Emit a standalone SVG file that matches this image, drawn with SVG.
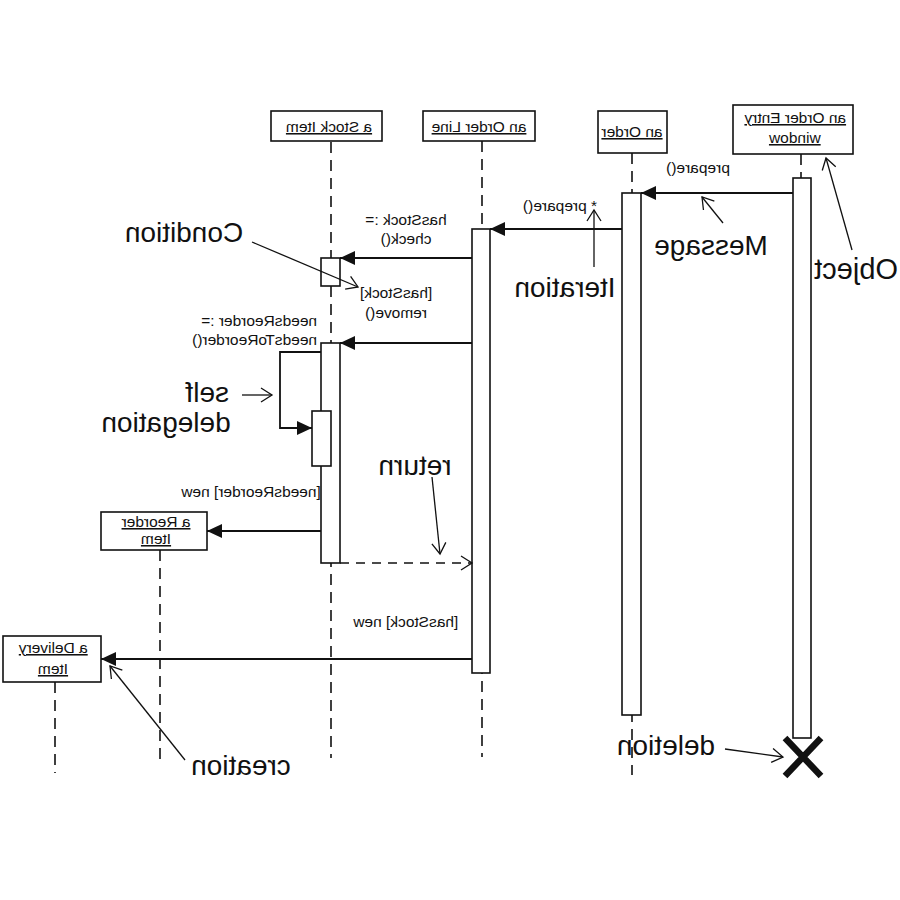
<svg xmlns="http://www.w3.org/2000/svg" width="900" height="900" viewBox="0 0 900 900">
<style>
text { font-family: "Liberation Sans", Arial, sans-serif; fill: #111; }
.m { transform-box: fill-box; transform-origin: center; transform: scaleX(-1); }
.s { font-size: 15.5px; }
.u { text-decoration: underline; }
.big { font-size: 28px; }
.box { fill: #fff; stroke: #111; stroke-width: 1.6; }
.life { fill: none; stroke: #111; stroke-width: 1.6; stroke-dasharray: 11 7; }
.msg { fill: none; stroke: #111; stroke-width: 1.8; marker-end: url(#fill); }
.ret { fill: none; stroke: #111; stroke-width: 1.6; stroke-dasharray: 9 7; marker-end: url(#open); }
.note { fill: none; stroke: #111; stroke-width: 1.3; marker-end: url(#open); }
</style>
<defs>
<marker id="fill" markerUnits="userSpaceOnUse" markerWidth="16" markerHeight="14" refX="15" refY="7" orient="auto">
<path d="M0,0 L15,7 L0,14 z" fill="#111"/>
</marker>
<marker id="open" markerUnits="userSpaceOnUse" markerWidth="14" markerHeight="16" refX="12" refY="8" orient="auto">
<path d="M1,1 L12,8 L1,15" fill="none" stroke="#111" stroke-width="1.3"/>
</marker>
</defs>
<rect width="900" height="900" fill="#fff"/>

<g id="stock-item">
<line class="life" x1="331" y1="142" x2="331" y2="758"/>
<rect class="box" x="271" y="111" width="111" height="30"/>
<text class="m s u" x="329" y="132" text-anchor="middle">a Stock Item</text>
<rect class="box" x="321" y="258" width="19" height="28"/>
<rect class="box" x="321" y="343" width="19" height="220"/>
<rect class="box" x="312" y="411" width="19" height="55"/>
</g>

<g id="order-line">
<line class="life" x1="482" y1="141" x2="482" y2="757"/>
<rect class="box" x="423" y="111" width="112" height="30"/>
<text class="m s u" x="479" y="132" text-anchor="middle">an Order Line</text>
<rect class="box" x="472" y="229" width="18" height="444"/>
</g>

<g id="order">
<line class="life" x1="632" y1="153" x2="632" y2="775"/>
<rect class="box" x="598" y="111" width="69" height="42"/>
<text class="m s u" x="632" y="137" text-anchor="middle">an Order</text>
<rect class="box" x="622" y="193" width="19" height="522"/>
</g>

<g id="order-entry-window">
<line class="life" x1="801" y1="154" x2="801" y2="178"/>
<rect class="box" x="733" y="105" width="120" height="49"/>
<text class="m s u" x="795" y="123" text-anchor="middle">an Order Entry</text>
<text class="m s u" x="795" y="143" text-anchor="middle">window</text>
<rect class="box" x="793" y="178" width="18" height="560"/>
<path d="M785,738 L821,776 M821,738 L785,776" stroke="#111" stroke-width="6.5" fill="none"/>
</g>

<g id="reorder-item">
<line class="life" x1="160" y1="550" x2="160" y2="760"/>
<rect class="box" x="101" y="512" width="106" height="38"/>
<text class="m s u" x="156" y="527" text-anchor="middle">a Reorder</text>
<text class="m s u" x="156" y="544" text-anchor="middle">Item</text>
</g>

<g id="delivery-item">
<line class="life" x1="55" y1="682" x2="55" y2="773"/>
<rect class="box" x="3" y="636" width="98" height="46"/>
<text class="m s u" x="53" y="653" text-anchor="middle">a Delivery</text>
<text class="m s u" x="53" y="674" text-anchor="middle">Item</text>
</g>

<g id="connectors">
<line class="msg" x1="793" y1="193" x2="641" y2="193"/>
<text class="m s" x="698" y="173" text-anchor="middle">prepare()</text>
<line class="msg" x1="622" y1="229" x2="490" y2="229"/>
<text class="m s" x="560" y="211" text-anchor="middle">* prepare()</text>
<line class="msg" x1="472" y1="258" x2="340" y2="258"/>
<text class="m s" x="406" y="225" text-anchor="middle">hasStock :=</text>
<text class="m s" x="406" y="244" text-anchor="middle">check()</text>
<text class="m s" x="396" y="298" text-anchor="middle">[hasStock]</text>
<text class="m s" x="396" y="318" text-anchor="middle">remove()</text>
<line class="msg" x1="472" y1="343" x2="340" y2="343"/>
<text class="m s" x="317" y="326" text-anchor="end">needsReorder :=</text>
<text class="m s" x="317" y="345" text-anchor="end">needsToReorder()</text>
<polyline class="msg" points="321,352 280,352 280,428 312,428"/>
<text class="m s" x="320" y="497" text-anchor="end">[needsReorder] new</text>
<line class="msg" x1="321" y1="531" x2="207" y2="531"/>
<line class="ret" x1="340" y1="563" x2="472" y2="563"/>
<text class="m s" x="405" y="627" text-anchor="middle">[hasStock] new</text>
<line class="msg" x1="472" y1="659" x2="101" y2="659"/>
</g>

<g id="annotations">
<text class="m big" x="184" y="242" text-anchor="middle">Condition</text>
<line class="note" x1="252" y1="242" x2="358" y2="287"/>
<text class="m big" x="711" y="255" text-anchor="middle">Message</text>
<line class="note" x1="723" y1="223" x2="702" y2="197"/>
<text class="m big" x="565" y="297" text-anchor="middle">Iteration</text>
<line class="note" x1="594" y1="267" x2="594" y2="210"/>
<text class="m big" x="898" y="279" text-anchor="end" style="font-size:29px">Object</text>
<line class="note" x1="852" y1="250" x2="826" y2="158"/>
<text class="m big" x="207" y="402" text-anchor="middle">self</text>
<text class="m big" x="166" y="432" text-anchor="middle">delegation</text>
<line class="note" x1="242" y1="395" x2="272" y2="395"/>
<text class="m big" x="415" y="475" text-anchor="middle">return</text>
<line class="note" x1="432" y1="477" x2="440" y2="554"/>
<text class="m big" x="241" y="775" text-anchor="middle">creation</text>
<line class="note" x1="185" y1="760" x2="110" y2="666"/>
<text class="m big" x="666" y="755" text-anchor="middle">deletion</text>
<line class="note" x1="725" y1="749" x2="783" y2="757"/>
</g>
</svg>
